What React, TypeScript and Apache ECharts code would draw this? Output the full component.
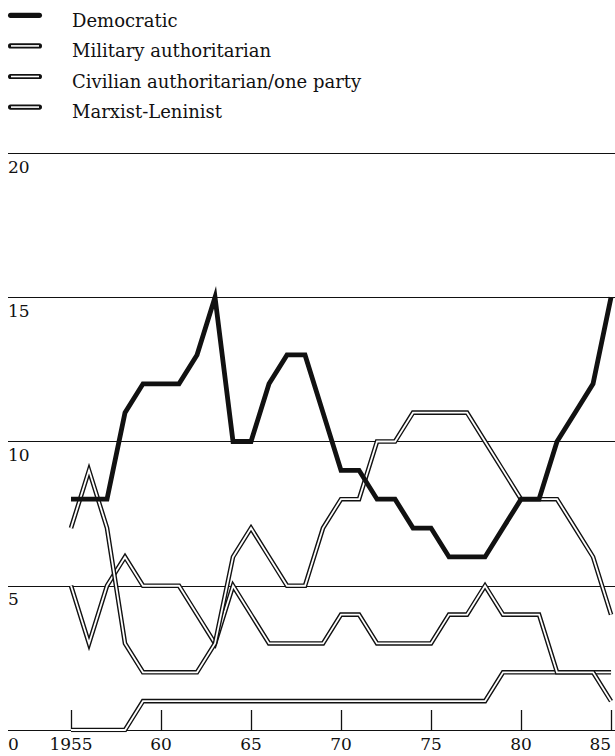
import React, { useEffect, useRef } from "react";
import * as echarts from "echarts";

const years = [
  1955, 1956, 1957, 1958, 1959, 1960, 1961, 1962, 1963, 1964, 1965, 1966, 1967, 1968, 1969, 1970,
  1971, 1972, 1973, 1974, 1975, 1976, 1977, 1978, 1979, 1980, 1981, 1982, 1983, 1984, 1985,
];
const democratic = [8, 8, 8, 11, 12, 12, 12, 13, 15, 10, 10, 12, 13, 13, 11, 9, 9, 8, 8, 7, 7, 6, 6, 6, 7, 8, 8, 10, 11, 12, 15];
const military = [7, 9, 7, 3, 2, 2, 2, 2, 3, 6, 7, 6, 5, 5, 7, 8, 8, 10, 10, 11, 11, 11, 11, 10, 9, 8, 8, 8, 7, 6, 4];
const civilian = [5, 3, 5, 6, 5, 5, 5, 4, 3, 5, 4, 3, 3, 3, 3, 4, 4, 3, 3, 3, 3, 4, 4, 5, 4, 4, 4, 2, 2, 2, 1];
const marxist = [0, 0, 0, 0, 1, 1, 1, 1, 1, 1, 1, 1, 1, 1, 1, 1, 1, 1, 1, 1, 1, 1, 1, 1, 2, 2, 2, 2, 2, 2, 2];

const seriesNames = [
  "Democratic",
  "Military authoritarian",
  "Civilian authoritarian/one party",
  "Marxist-Leninist",
];
const xTickValues = [1955, 1960, 1965, 1970, 1975, 1980, 1985];
const xTickLabels = ["1955", "60", "65", "70", "75", "80", "85"];

const INK = "#111";
const SERIF = "DejaVu Serif";

export default function App() {
  const ref = useRef<HTMLDivElement>(null);

  useEffect(() => {
    const chart = echarts.init(ref.current!, null, { renderer: "svg" });
    const toPairs = (vals: number[]) => years.map((y, i) => [y, vals[i]]);

    const outline = (name: string, vals: number[], width: number) => ({
      type: "line",
      name,
      data: toPairs(vals),
      showSymbol: false,
      symbol: "none",
      silent: true,
      lineStyle: { color: INK, width, join: "miter", miterLimit: 6, cap: "butt" },
    });
    const core = (name: string, vals: number[]) => ({
      type: "line",
      name: name + " ",
      data: toPairs(vals),
      showSymbol: false,
      symbol: "none",
      silent: true,
      lineStyle: { color: "#fff", width: 1.8, join: "miter", miterLimit: 6, cap: "butt" },
    });

    const legendGraphics: any[] = [];
    seriesNames.forEach((name, i) => {
      const capTop = 13 + i * 30.6;
      const cy = capTop + 2.3;
      legendGraphics.push({
        type: "rect",
        shape: { x: 8, y: cy - 2.6, width: 34, height: 5.2, r: 2.6 },
        style: { fill: INK },
      });
      if (i > 0) {
        legendGraphics.push({
          type: "rect",
          shape: { x: 11, y: cy - 0.8, width: 28, height: 1.6 },
          style: { fill: "#fff" },
        });
      }
      legendGraphics.push({
        type: "text",
        x: 72,
        y: capTop - 2,
        style: {
          text: name,
          fill: INK,
          fontFamily: SERIF,
          fontSize: 18,
          align: "left",
          verticalAlign: "top",
        },
      });
    });

    chart.setOption({
      animation: false,
      backgroundColor: "#fff",
      grid: {
        left: 8,
        right: 0,
        top: 153,
        bottom: 26,
        containLabel: false,
        outerBoundsMode: "none",
      },
      xAxis: {
        type: "value",
        min: 1951.5,
        max: 1985.22,
        axisLine: { show: false },
        splitLine: { show: false },
        axisTick: {
          show: true,
          inside: true,
          length: 20,
          customValues: xTickValues,
          lineStyle: { color: INK, width: 1.3 },
        },
        axisLabel: {
          show: true,
          customValues: xTickValues,
          alignMaxLabel: "right",
          formatter: (v: number) => {
            const idx = xTickValues.indexOf(Math.round(v));
            return idx >= 0 ? xTickLabels[idx] : "";
          },
          color: INK,
          fontFamily: SERIF,
          fontSize: 17,
          margin: 5,
        },
      },
      yAxis: {
        type: "value",
        min: 0,
        max: 20,
        interval: 5,
        axisLine: { show: false },
        axisTick: { show: false },
        splitLine: { show: true, lineStyle: { color: INK, width: 1.2 } },
        axisLabel: {
          inside: true,
          margin: 0,
          align: "left",
          verticalAlign: "top",
          padding: [5, 0, 0, 0],
          color: INK,
          fontFamily: SERIF,
          fontSize: 17,
        },
      },
      graphic: legendGraphics,
      series: [
        outline(seriesNames[3], marxist, 4.6),
        core(seriesNames[3], marxist),
        outline(seriesNames[2], civilian, 4.6),
        core(seriesNames[2], civilian),
        outline(seriesNames[1], military, 4.6),
        core(seriesNames[1], military),
        outline(seriesNames[0], democratic, 4.8),
      ],
    });

    return () => chart.dispose();
  }, []);

  return (
    <div
      ref={ref}
      style={{ position: "absolute", left: 0, top: 0, width: 615, height: 756, background: "#fff" }}
    />
  );
}
